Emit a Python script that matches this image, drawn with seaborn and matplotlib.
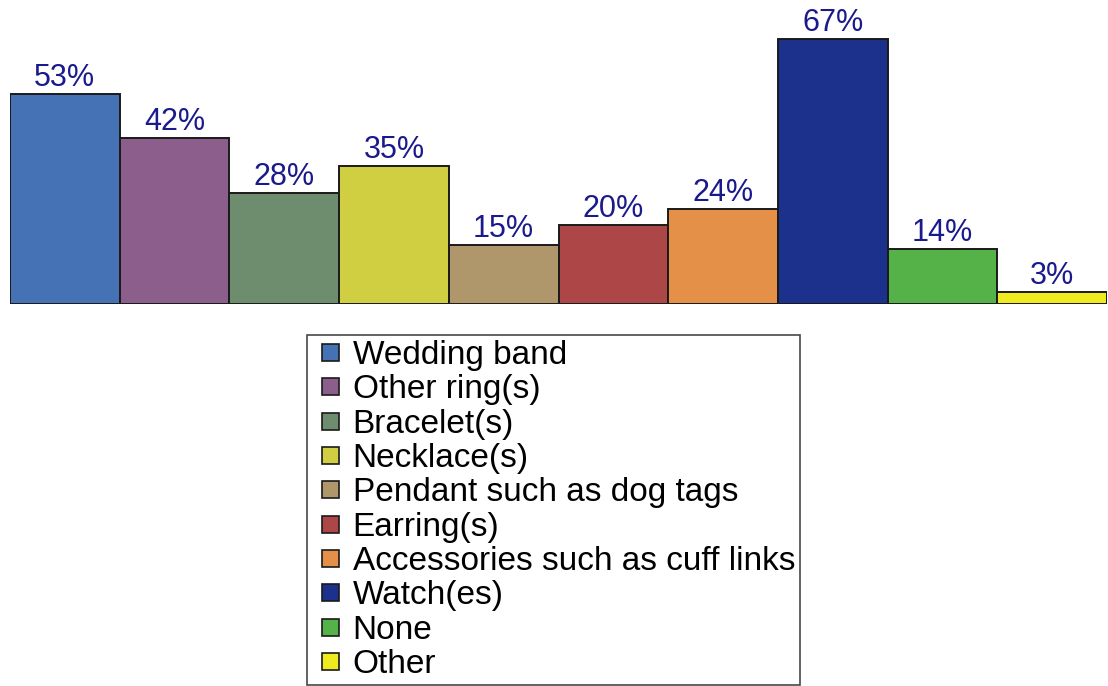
import matplotlib
matplotlib.use("Agg")
import matplotlib.pyplot as plt
import seaborn as sns
import pandas as pd
from matplotlib.patches import Patch, Rectangle
from matplotlib.legend_handler import HandlerPatch

categories = ["Wedding band", "Other ring(s)", "Bracelet(s)", "Necklace(s)",
              "Pendant such as dog tags", "Earring(s)", "Accessories such as cuff links",
              "Watch(es)", "None", "Other"]
values = [53, 42, 28, 35, 15, 20, 24, 67, 14, 3]
colors = ["#4472B4", "#8B5E8B", "#6E8C6E", "#D0CF42", "#B0976B",
          "#AD4646", "#E59048", "#1C318C", "#55B248", "#F0EB1E"]

sns.set_style("white")
plt.rcParams['font.family'] = ['Liberation Sans', 'DejaVu Sans']
plt.rcParams['text.color'] = 'black'

df = pd.DataFrame({"cat": categories, "val": values})

fig = plt.figure(figsize=(11.08, 6.86), dpi=100)
ax = fig.add_axes([10/1108, (686-304)/686, 1097/1108, (304-27)/686])

sns.barplot(data=df, x="cat", y="val", hue="cat", palette=colors, dodge=False,
            saturation=1, width=1.0, edgecolor="#1a1a1a", linewidth=1.4,
            legend=False, ax=ax, order=categories, hue_order=categories)

ax.set_xlim(-0.5, len(categories) - 0.5)
ax.set_ylim(0, 70)
for s in ax.spines.values():
    s.set_visible(False)
ax.set_xticks([])
ax.set_yticks([])
ax.set_xlabel("")
ax.set_ylabel("")

for i, v in enumerate(values):
    ax.text(i, v + 0.2, f"{v}%", ha="center", va="bottom", fontsize=22, color="#1a1a8c")


def square(legend, orig_handle, xdescent, ydescent, width, height, fontsize):
    s = 0.51 * fontsize
    return Rectangle((-xdescent + width - s, -ydescent + (height - s) / 2), s, s)


handles = [Patch(facecolor=c, edgecolor="#1a1a1a", linewidth=1.2) for c in colors]
leg = fig.legend(handles, categories, loc="upper left", bbox_to_anchor=(307/1108, 1 - 335/686),
                 fontsize=24, frameon=True, fancybox=False, edgecolor="#1a1a1a",
                 handlelength=0.8, handletextpad=0.42, labelspacing=0.1,
                 borderpad=0.15, borderaxespad=0,
                 handler_map={Patch: HandlerPatch(patch_func=square)})
leg.get_frame().set_linewidth(1.2)
for t in leg.get_texts():
    t.set_color("black")

fig.savefig("out.png", dpi=100)
